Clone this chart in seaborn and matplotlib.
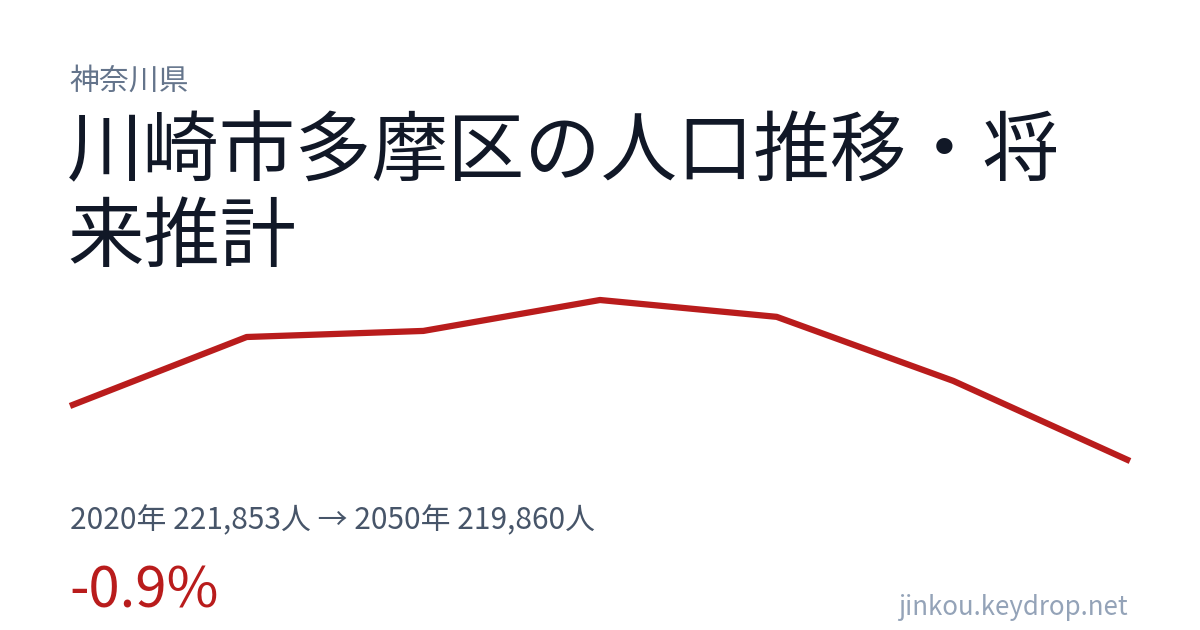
import matplotlib
matplotlib.use("Agg")
import matplotlib.pyplot as plt
import seaborn as sns
import pandas as pd

years = [2020, 2025, 2030, 2035, 2040, 2045, 2050]
population = [221853, 224350, 224570, 225690, 225080, 222760, 219860]

prefecture = "神奈川県"
title_lines = ["川崎市多摩区の人口推移・将", "来推計"]
summary = "2020年 221,853人 → 2050年 219,860人"
change = "-0.9%"
footer = "jinkou.keydrop.net"

sns.set_theme(style="white")
plt.rcParams['font.family'] = ['Noto Sans CJK JP', 'DejaVu Sans']

W, H = 1200, 630
fig = plt.figure(figsize=(12, 6.3), dpi=100)
fig.patch.set_facecolor("white")

# axes placed in pixel coordinates: x 70..1130, y 300..461 (from top)
ax = fig.add_axes([70 / W, 1 - 461 / H, 1060 / W, 161 / H])
df = pd.DataFrame({"year": years, "population": population})
sns.lineplot(data=df, x="year", y="population", ax=ax, color="#b91c1c",
             linewidth=4.5, clip_on=False)
for ln in ax.lines:
    ln.set_clip_on(False)
    ln.set_solid_capstyle("butt")
ax.set_xlim(min(years), max(years))
ax.set_ylim(min(population), max(population))
ax.axis("off")

def px(x, y):
    return x / W, 1 - y / H

fig.text(*px(69, 90), prefecture, fontsize=21.5, color="#64748b", va="baseline", ha="left")
fig.text(*px(67, 175), title_lines[0], fontsize=55, color="#111827", va="baseline", ha="left")
fig.text(*px(67, 261), title_lines[1], fontsize=55, color="#111827", va="baseline", ha="left")
fig.text(*px(70, 529), summary, fontsize=21.5, color="#475569", va="baseline", ha="left")
fig.text(*px(69, 608), change, fontsize=40.5, color="#b91c1c", va="baseline", ha="left")
fig.text(*px(1128, 615), footer, fontsize=18.6, color="#94a3b8", va="baseline", ha="right")

fig.savefig("out.png", dpi=100, facecolor="white")
